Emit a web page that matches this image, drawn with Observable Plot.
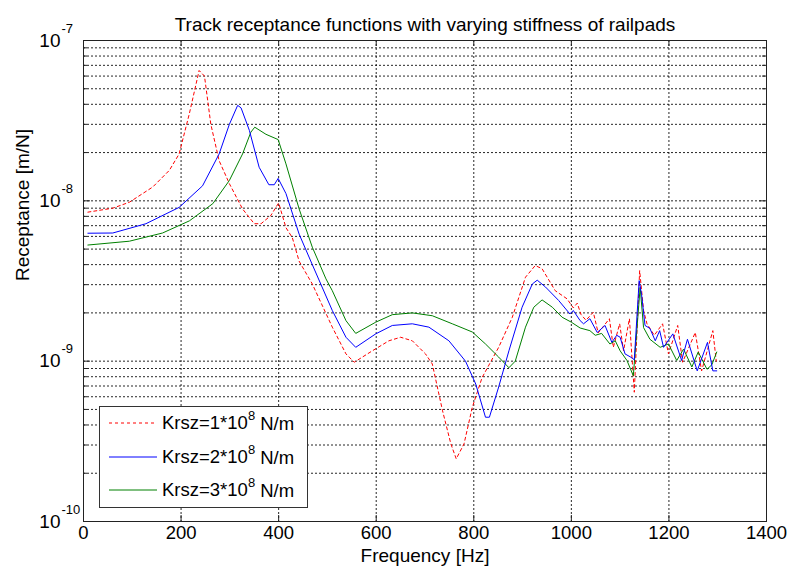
<!DOCTYPE html>
<html>
<head>
<meta charset="utf-8">
<script src="https://cdn.jsdelivr.net/npm/d3@7"></script>
<script src="https://cdn.jsdelivr.net/npm/@observablehq/plot@0.6"></script>
<style>
  html, body { margin: 0; padding: 0; background: #fff; }
  #chart { width: 791px; height: 574px; }
</style>
</head>
<body>
<div id="chart"></div>
<script>
const titleText = "Track receptance functions with varying stiffness of railpads";
const xLabel = "Frequency [Hz]";
const yLabel = "Receptance [m/N]";
const xTicks = [0, 200, 400, 600, 800, 1000, 1200, 1400];
const yMajor = [1e-10, 1e-9, 1e-8, 1e-7];
const yExponents = ["-10", "-9", "-8", "-7"];
const seriesNames = ["Krsz=1*10", "Krsz=2*10", "Krsz=3*10"];
const seriesExp = "8";
const seriesUnit = " N/m";

// Krsz = 1e8 N/m (red dashed)
const redFreq = [9, 60, 94, 142, 176, 196, 217, 237, 248, 261, 278, 299, 326, 350, 364, 384, 400, 415, 428, 442, 469, 510, 538, 555, 592, 626, 650, 674, 701, 715, 736, 753, 764, 780, 797, 817, 851, 879, 906, 926, 940, 967, 991, 1004, 1012, 1020, 1030, 1045, 1055, 1078, 1086, 1099, 1107, 1119, 1129, 1140, 1148, 1155, 1170, 1187, 1199, 1218, 1228, 1254, 1267, 1290, 1297];
const redVal = [8.5e-9, 9.0e-9, 9.8e-9, 1.22e-8, 1.55e-8, 1.96e-8, 3.5e-8, 6.5e-8, 6.0e-8, 3.0e-8, 1.78e-8, 1.28e-8, 8.9e-9, 7.2e-9, 7.2e-9, 8.1e-9, 9.7e-9, 6.8e-9, 5.9e-9, 4.2e-9, 3.03e-9, 1.63e-9, 1.11e-9, 9.85e-10, 1.16e-9, 1.34e-9, 1.41e-9, 1.34e-9, 1.11e-9, 9.6e-10, 4.9e-10, 3.05e-10, 2.46e-10, 3.05e-10, 5.16e-10, 7.9e-10, 1.22e-9, 1.88e-9, 3.34e-9, 3.95e-9, 3.77e-9, 2.75e-9, 2.45e-9, 2.15e-9, 2.3e-9, 1.95e-9, 1.8e-9, 2.02e-9, 1.5e-9, 1.84e-9, 1.22e-9, 1.71e-9, 1.16e-9, 1.84e-9, 6.4e-10, 3.67e-9, 2.07e-9, 1.71e-9, 1.45e-9, 1.71e-9, 1.11e-9, 1.67e-9, 9.85e-10, 1.51e-9, 8.7e-10, 1.55e-9, 1.0e-9];

// Krsz = 2e8 N/m (blue)
const blueFreq = [9, 60, 128, 196, 244, 278, 299, 316, 323, 340, 360, 380, 391, 399, 415, 442, 469, 510, 538, 558, 599, 633, 674, 708, 749, 783, 804, 824, 832, 851, 872, 899, 920, 930, 947, 974, 997, 1004, 1018, 1025, 1038, 1053, 1069, 1083, 1093, 1100, 1110, 1124, 1129, 1139, 1144, 1151, 1161, 1172, 1181, 1189, 1208, 1226, 1238, 1258, 1279, 1290, 1298];
const blueVal = [6.28e-9, 6.3e-9, 7.2e-9, 9.1e-9, 1.24e-8, 1.96e-8, 3.0e-8, 3.94e-8, 3.8e-8, 2.75e-8, 1.62e-8, 1.26e-8, 1.26e-8, 1.38e-8, 1.11e-8, 6.2e-9, 4.0e-9, 2.07e-9, 1.41e-9, 1.22e-9, 1.48e-9, 1.67e-9, 1.71e-9, 1.63e-9, 1.34e-9, 1.0e-9, 7.2e-10, 4.47e-10, 4.47e-10, 6.9e-10, 1.16e-9, 2.17e-9, 3.03e-9, 3.2e-9, 2.9e-9, 2.39e-9, 1.97e-9, 2.07e-9, 1.79e-9, 1.71e-9, 1.84e-9, 1.51e-9, 1.67e-9, 1.31e-9, 1.45e-9, 1.41e-9, 1.11e-9, 1.05e-9, 1.02e-9, 3.18e-9, 2.6e-9, 1.67e-9, 1.6e-9, 1.34e-9, 1.55e-9, 1.22e-9, 1.48e-9, 1.01e-9, 1.37e-9, 8.7e-10, 1.31e-9, 8.7e-10, 8.7e-10];

// Krsz = 3e8 N/m (green)
const greenFreq = [9, 94, 162, 217, 265, 299, 326, 343, 351, 374, 399, 415, 442, 469, 497, 510, 538, 558, 599, 633, 674, 715, 756, 797, 824, 851, 872, 885, 906, 923, 940, 961, 981, 1000, 1018, 1038, 1049, 1062, 1079, 1090, 1100, 1114, 1127, 1141, 1148, 1161, 1182, 1199, 1216, 1230, 1247, 1260, 1278, 1288, 1298];
const greenVal = [5.3e-9, 5.6e-9, 6.3e-9, 7.5e-9, 9.6e-9, 1.34e-8, 1.96e-8, 2.68e-8, 2.88e-8, 2.6e-8, 2.41e-8, 1.7e-8, 8.9e-9, 5.14e-9, 3.26e-9, 2.75e-9, 1.79e-9, 1.49e-9, 1.75e-9, 1.95e-9, 2.0e-9, 1.92e-9, 1.71e-9, 1.52e-9, 1.28e-9, 1.06e-9, 9.1e-10, 1.0e-9, 1.63e-9, 2.17e-9, 2.41e-9, 2.17e-9, 1.88e-9, 1.75e-9, 1.61e-9, 1.55e-9, 1.45e-9, 1.49e-9, 1.28e-9, 1.34e-9, 1.16e-9, 1.01e-9, 8.1e-10, 2.89e-9, 1.62e-9, 1.37e-9, 1.22e-9, 1.28e-9, 1.01e-9, 1.19e-9, 9.2e-10, 1.14e-9, 8.9e-10, 9.5e-10, 1.14e-9];

const seriesColors = ["#ff0000", "#0000ff", "#008000"];
const seriesDash = ["3,3", null, null];

const red = redFreq.map((f, i) => ({f, v: redVal[i]}));
const blue = blueFreq.map((f, i) => ({f, v: blueVal[i]}));
const green = greenFreq.map((f, i) => ({f, v: greenVal[i]}));

// grid values: 1..9 x each decade
const yGrid = [];
for (let e = -10; e < -7; e++) for (let k = 1; k <= 9; k++) yGrid.push(k * Math.pow(10, e));
const yMinor = yGrid.filter(d => !yMajor.includes(d));
const xInner = xTicks.slice(1, -1);

const font = "'Liberation Sans', Arial, Helvetica, sans-serif";
const frameW = 683, frameH = 481;

const chart = Plot.plot({
  width: 791,
  height: 574,
  marginLeft: 83,
  marginRight: 25,
  marginTop: 40,
  marginBottom: 53,
  x: {domain: [0, 1400], axis: null},
  y: {type: "log", domain: [1e-10, 1e-7], axis: null},
  style: {fontFamily: font, background: "#fff", color: "#000"},
  marks: [
    Plot.ruleX(xInner, {x: d => d, stroke: "#000", strokeOpacity: 0.85, strokeDasharray: "2,2"}),
    Plot.ruleY(yGrid.slice(1), {y: d => d, stroke: "#000", strokeOpacity: 0.85, strokeDasharray: "2,2"}),
    // inward ticks
    Plot.tickX(xInner, {x: d => d, insetTop: frameH - 6, stroke: "#222"}),
    Plot.tickX(xInner, {x: d => d, insetBottom: frameH - 6, stroke: "#222"}),
    Plot.tickY(yMajor, {y: d => d, insetRight: frameW - 7, stroke: "#222"}),
    Plot.tickY(yMajor, {y: d => d, insetLeft: frameW - 7, stroke: "#222"}),
    Plot.tickY(yMinor, {y: d => d, insetRight: frameW - 4, stroke: "#222"}),
    Plot.tickY(yMinor, {y: d => d, insetLeft: frameW - 4, stroke: "#222"}),
    Plot.line(red, {x: "f", y: "v", stroke: seriesColors[0], strokeWidth: 1, strokeDasharray: seriesDash[0]}),
    Plot.line(green, {x: "f", y: "v", stroke: seriesColors[2], strokeWidth: 1}),
    Plot.line(blue, {x: "f", y: "v", stroke: seriesColors[1], strokeWidth: 1}),
    Plot.frame({stroke: "#222", strokeWidth: 1}),
    // x tick labels
    Plot.text(xTicks, {x: d => d, text: d => String(d), frameAnchor: "bottom", dy: 17, fontSize: 18.5, fill: "#000"}),
    // y tick labels 10^n
    Plot.text(yMajor, {y: d => d, text: () => "10", frameAnchor: "left", dx: -23, textAnchor: "end", fontSize: 19, fill: "#000"}),
    Plot.text(yMajor, {y: d => d, text: (d, i) => yExponents[i], frameAnchor: "left", dx: -22, dy: -12, textAnchor: "start", fontSize: 13, fill: "#000"}),
    // axis labels and title
    Plot.text([xLabel], {text: d => d, frameAnchor: "bottom", dy: 40, fontSize: 19, fill: "#000"}),
    Plot.text([yLabel], {text: d => d, frameAnchor: "left", dx: -61, rotate: -90, fontSize: 19, fill: "#000"}),
    Plot.text([titleText], {text: d => d, frameAnchor: "top", dy: -23, fontSize: 19, fill: "#000"})
  ]
});

document.getElementById("chart").appendChild(chart);

// legend
const svg = d3.select(chart);
const lg = svg.append("g").attr("font-family", font).attr("font-size", 18.5).attr("text-anchor", "start");
lg.append("rect").attr("x", 99.5).attr("y", 406.5).attr("width", 208).attr("height", 101)
  .attr("fill", "#fff").attr("stroke", "#333").attr("stroke-width", 1);
const rowY = [423, 457, 490];
seriesNames.forEach((name, i) => {
  const ln = lg.append("line").attr("x1", 109).attr("x2", 157).attr("y1", rowY[i]).attr("y2", rowY[i])
    .attr("stroke", seriesColors[i]).attr("stroke-width", 1);
  if (seriesDash[i]) ln.attr("stroke-dasharray", seriesDash[i]);
  const t = lg.append("text").attr("x", 162).attr("y", rowY[i]).attr("dy", "0.35em").attr("fill", "#000");
  t.append("tspan").text(name);
  t.append("tspan").attr("font-size", 13).attr("dy", "-0.75em").text(seriesExp);
  t.append("tspan").attr("dy", "0.53em").text(seriesUnit);
});
</script>
</body>
</html>
